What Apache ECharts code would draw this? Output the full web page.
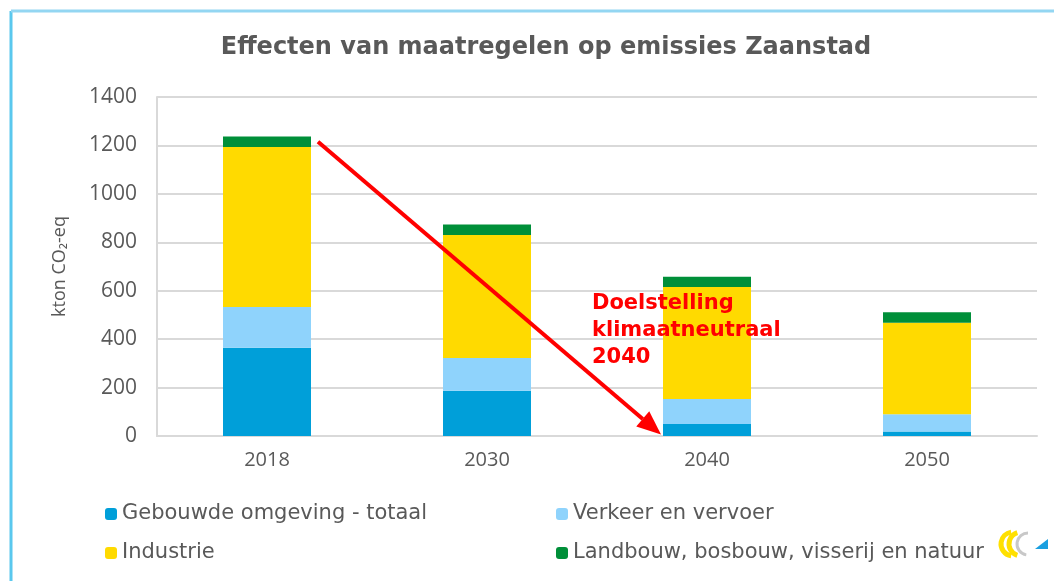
<!DOCTYPE html>
<html>
<head>
<meta charset="utf-8">
<script src="https://cdn.jsdelivr.net/npm/echarts@6/dist/echarts.min.js"></script>
<style>
  html, body { margin: 0; padding: 0; background: #fff; }
  #main { width: 1054px; height: 581px; }
</style>
</head>
<body>
<div id="main"></div>
<script>
// data
var years = ['2018', '2030', '2040', '2050'];
var gebouwd = [364, 187, 50, 19];
var verkeer = [169, 135, 103, 71];
var industrie = [660, 508, 462, 378];
var landbouw = [44, 43, 43, 43];
var yTicks = [0, 200, 400, 600, 800, 1000, 1200, 1400];

(function () {
  var myChart = echarts.init(document.getElementById('main'))
  var grey = '#595959'
  var legendText = { fontFamily: 'DejaVu Sans', fontSize: 21, color: grey, lineHeight: 24 }
  var option = {
    animation: false,
    title: {
      text: 'Effecten van maatregelen op emissies Zaanstad',
      left: 541,
      textAlign: 'center',
      top: 31,
      textStyle: {
        fontFamily: 'DejaVu Sans',
        fontWeight: 'bold',
        fontSize: 24,
        color: grey
      }
    },
    // twee legenda's naast elkaar, zodat de kolommen netjes onder elkaar staan
    legend: [{
      data: ['Gebouwde omgeving - totaal', 'Industrie'],
      orient: 'vertical',
      left: 100,
      top: 497,
      itemWidth: 12,
      itemHeight: 12,
      itemGap: 15,
      textStyle: legendText
    }, {
      data: ['Verkeer en vervoer', 'Landbouw, bosbouw, visserij en natuur'],
      orient: 'vertical',
      left: 551,
      top: 497,
      itemWidth: 12,
      itemHeight: 12,
      itemGap: 15,
      textStyle: legendText
    }],
    grid: {
      left: 157,
      right: 17,
      top: 97,
      bottom: 145
    },
    xAxis: {
      type: 'category',
      data: years,
      axisTick: { show: false },
      axisLine: { lineStyle: { color: '#d9d9d9', width: 2 } },
      axisLabel: { color: grey, fontFamily: 'Open Sans', fontSize: 20, margin: 14 }
    },
    yAxis: {
      type: 'value',
      min: yTicks[0],
      max: yTicks[yTicks.length - 1],
      interval: 200,
      name: 'kton CO₂-eq',
      nameLocation: 'middle',
      nameGap: 88,
      nameTextStyle: { color: grey, fontFamily: 'Open Sans', fontSize: 18 },
      axisLine: { show: true, lineStyle: { color: '#d9d9d9', width: 2 } },
      axisLabel: {
        color: grey,
        fontFamily: 'Open Sans',
        fontSize: 21,
        margin: 20,
        formatter: function (v) { return String(v) }
      },
      splitLine: { lineStyle: { color: '#d9d9d9', width: 2 } }
    },
    series: [{
      name: 'Gebouwde omgeving - totaal',
      type: 'bar',
      stack: 'totaal',
      barWidth: '40%',
      data: gebouwd,
      itemStyle: { color: '#009fd9' }
    }, {
      name: 'Verkeer en vervoer',
      type: 'bar',
      stack: 'totaal',
      data: verkeer,
      itemStyle: { color: '#8fd3fc' }
    }, {
      name: 'Industrie',
      type: 'bar',
      stack: 'totaal',
      data: industrie,
      itemStyle: { color: '#ffda00' }
    }, {
      name: 'Landbouw, bosbouw, visserij en natuur',
      type: 'bar',
      stack: 'totaal',
      data: landbouw,
      itemStyle: { color: '#008f39' }
    }]
  }
  myChart.setOption(option)

  // pijl van 2018 naar 2040 (nul), posities via de assen
  var c0 = myChart.convertToPixel({ gridIndex: 0 }, [years[0], 1215])
  var c1 = myChart.convertToPixel({ gridIndex: 0 }, [years[1], 0])
  var c2 = myChart.convertToPixel({ gridIndex: 0 }, [years[2], 6])
  var half = (c1[0] - c0[0]) * 0.2
  var x1 = c0[0] + half + 7, y1 = c0[1]
  var x2 = c2[0] - half - 2, y2 = c2[1]
  var ang = Math.atan2(y2 - y1, x2 - x1)
  var hl = 24, hw = 10
  var bx = x2 - hl * Math.cos(ang), by = y2 - hl * Math.sin(ang)
  var px = -Math.sin(ang) * hw, py = Math.cos(ang) * hw

  myChart.setOption({
    graphic: [
      // kader van de dia
      { type: 'line', shape: { x1: 11, y1: 11, x2: 11, y2: 581 }, style: { stroke: '#5ac8ee', lineWidth: 3 } },
      { type: 'line', shape: { x1: 11, y1: 11, x2: 1054, y2: 11 }, style: { stroke: '#93d6f2', lineWidth: 3 } },
      // pijl
      { type: 'line', z: 100, shape: { x1: x1, y1: y1, x2: bx, y2: by }, style: { stroke: '#ff0000', lineWidth: 4 } },
      { type: 'polygon', z: 100, shape: { points: [[x2, y2], [bx + px, by + py], [bx - px, by - py]] }, style: { fill: '#ff0000' } },
      // tekst
      {
        type: 'text', z: 100, left: 592, top: 290,
        style: {
          text: 'Doelstelling\nklimaatneutraal\n2040',
          fill: '#ff0000',
          font: 'bold 21px "DejaVu Sans"',
          lineHeight: 27
        }
      },
      // logo rechtsonder
      { type: 'arc', shape: { cx: 1013, cy: 544, r: 12, startAngle: Math.PI * 0.55, endAngle: Math.PI * 1.45 }, style: { stroke: '#ffe000', lineWidth: 5, fill: null } },
      { type: 'arc', shape: { cx: 1021, cy: 544, r: 12, startAngle: Math.PI * 0.6, endAngle: Math.PI * 1.4 }, style: { stroke: '#ffe000', lineWidth: 5, fill: null } },
      { type: 'arc', shape: { cx: 1028, cy: 544, r: 11, startAngle: Math.PI * 0.55, endAngle: Math.PI * 1.5 }, style: { stroke: '#c8c8c8', lineWidth: 3, fill: null } },
      { type: 'polygon', shape: { points: [[1035, 549], [1048, 549], [1048, 539]] }, style: { fill: '#1a9fe0' } }
    ]
  })

  window.addEventListener('resize', function () {
    myChart.resize()
  })
})()
</script>
</body>
</html>
